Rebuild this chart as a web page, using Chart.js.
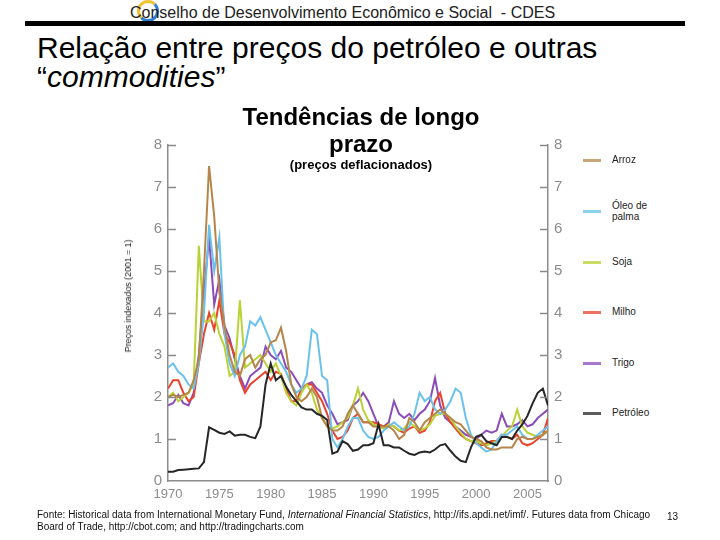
<!DOCTYPE html>
<html>
<head>
<meta charset="utf-8">
<script src="https://cdn.jsdelivr.net/npm/chart.js@4"></script>
<style>
  body { margin: 0; background: #fff; font-family: "Liberation Sans", Arial, sans-serif; }
  #page { position: relative; width: 720px; height: 540px; overflow: hidden; }
  .abs { position: absolute; white-space: nowrap; }
  #logo { left: 137px; top: 0px; width: 16px; height: 16px; border: 3px solid; border-radius: 50%;
          border-color: #f2c230 #2f7fd0 #2f7fd0 #f2c230; }
  #header { left: 130px; top: 4px; font-size: 16px; color: #222; line-height: 18px; }
  #rule { left: 25px; top: 21px; width: 660px; height: 5px; background: #000; }
  #title { left: 37px; top: 33px; font-size: 30px; line-height: 29px; color: #000; }
  #subtitle { left: 181px; top: 103px; width: 360px; text-align: center; font-size: 24px; font-weight: bold; line-height: 27px; }
  #note { left: 181px; top: 157px; width: 360px; text-align: center; font-size: 13px; font-weight: bold; }
  #ytitle { left: 128px; top: 296px; font-size: 9px; letter-spacing: -0.1px; color: #222; transform: translate(-50%, -50%) rotate(-90deg); }
  #chartBox { position: absolute; left: 120px; top: 130px; width: 460px; height: 385px; }
  .leg { position: absolute; left: 583px; width: 18px; height: 3px; }
  .legTxt { position: absolute; left: 612px; font-size: 10px; line-height: 11px; color: #222; }
  #source { left: 37px; top: 509px; font-size: 10px; line-height: 12px; color: #111; }
  #pnum { left: 667px; top: 511px; font-size: 10px; color: #111; }
</style>
</head>
<body>
<div id="page">
  <div id="logo" class="abs"></div>
  <div id="header" class="abs">Conselho de Desenvolvimento Econômico e Social &nbsp;- CDES</div>
  <div id="rule" class="abs"></div>
  <div id="title" class="abs">Relação entre preços do petróleo e outras<br>“<i>commodities</i>”</div>
  <div id="chartBox"><canvas id="oilChart"></canvas></div>
  <div id="subtitle" class="abs">Tendências de longo<br>prazo</div>
  <div id="note" class="abs">(preços deflacionados)</div>
  <div id="ytitle" class="abs">Preços indexados (2001 = 1)</div>
  <div id="legend"></div>
  <div id="source" class="abs">Fonte: Historical data from International Monetary Fund, <i>International Financial Statistics</i>, http://ifs.apdi.net/imf/. Futures data from Chicago<br>Board of Trade, http://cbot.com; and http://tradingcharts.com</div>
  <div id="pnum" class="abs">13</div>
</div>
<script>
// half-year steps, 1970 -> 2007
const years = [
  1970, 1970.5, 1971, 1971.5, 1972, 1972.5, 1973, 1973.5, 1974, 1974.5,
  1975, 1975.5, 1976, 1976.5, 1977, 1977.5, 1978, 1978.5, 1979, 1979.5,
  1980, 1980.5, 1981, 1981.5, 1982, 1982.5, 1983, 1983.5, 1984, 1984.5,
  1985, 1985.5, 1986, 1986.5, 1987, 1987.5, 1988, 1988.5, 1989, 1989.5,
  1990, 1990.5, 1991, 1991.5, 1992, 1992.5, 1993, 1993.5, 1994, 1994.5,
  1995, 1995.5, 1996, 1996.5, 1997, 1997.5, 1998, 1998.5, 1999, 1999.5,
  2000, 2000.5, 2001, 2001.5, 2002, 2002.5, 2003, 2003.5, 2004, 2004.5,
  2005, 2005.5, 2006, 2006.5, 2007
]

const arroz = [
  2.0, 2.05, 2.0, 2.05, 2.1, 2.4, 2.9, 5.0, 7.5, 6.3,
  4.5, 3.7, 3.0, 2.6, 2.5, 2.9, 3.0, 2.7, 2.9, 3.0,
  3.3, 3.35, 3.65, 3.1, 2.3, 2.0, 1.9, 2.0, 2.2, 2.0,
  1.5, 1.3, 1.2, 1.2, 1.3, 1.6, 1.8, 1.6, 1.4, 1.4,
  1.3, 1.3, 1.3, 1.3, 1.2, 1.0, 1.1, 1.5, 1.4, 1.2,
  1.4, 1.5, 1.6, 1.7, 1.6, 1.5, 1.4, 1.35, 1.2, 1.05,
  1.0, 0.95, 0.8, 0.75, 0.75, 0.8, 0.8, 0.8, 1.0, 1.05,
  1.0, 1.0, 1.05, 1.1, 1.2
]
const oleoPalma = [
  2.7, 2.8, 2.6, 2.5, 2.3, 2.2, 2.8, 4.0, 6.1, 5.0,
  5.8, 3.5, 2.8, 2.5, 3.0, 3.2, 3.8, 3.7, 3.9, 3.6,
  3.3, 3.0, 2.8, 2.6, 2.3, 2.1, 2.2, 2.5, 3.6, 3.5,
  2.5, 2.4, 1.0, 0.8, 1.0, 1.3, 1.5, 1.5, 1.2, 1.05,
  1.0, 1.05, 1.2, 1.3, 1.4, 1.3, 1.2, 1.3, 1.6, 2.1,
  1.9, 2.0, 1.7, 1.6, 1.7, 1.9, 2.2, 2.1, 1.5, 1.1,
  0.9, 0.8, 0.7, 0.75, 0.95, 1.1, 1.1, 1.2, 1.3, 1.1,
  1.0, 1.0, 1.1, 1.2, 1.3
]
const soja = [
  2.0, 2.1, 1.9, 2.0, 2.1, 2.3, 5.6, 3.8, 3.8, 4.0,
  3.5, 3.2, 2.5, 2.6, 4.3, 2.7, 2.8, 2.9, 3.0, 2.8,
  2.6, 2.8, 2.5, 2.1, 1.9, 1.8, 2.1, 2.3, 2.1, 1.7,
  1.5, 1.3, 1.25, 1.3, 1.4, 1.5, 1.8, 2.2, 1.7, 1.45,
  1.35, 1.3, 1.25, 1.35, 1.3, 1.2, 1.25, 1.4, 1.3, 1.2,
  1.25, 1.35, 1.55, 1.6, 1.6, 1.5, 1.3, 1.15, 1.0, 0.95,
  0.95, 0.9, 0.85, 0.9, 0.95, 1.05, 1.2, 1.3, 1.7, 1.3,
  1.15, 1.1, 1.05, 1.1, 1.2
]
const milho = [
  2.2, 2.4, 2.4, 2.1, 1.9, 2.0, 2.8, 3.5, 4.0, 3.6,
  4.3, 3.5, 3.3, 3.0, 2.4, 2.1, 2.3, 2.4, 2.5, 2.6,
  2.4, 2.6, 2.55, 2.2, 1.9, 1.9, 2.2, 2.3, 2.3, 2.1,
  1.9, 1.6, 1.2, 1.0, 1.05, 1.2, 1.5, 1.6, 1.4, 1.4,
  1.4, 1.35, 1.3, 1.35, 1.3, 1.2, 1.15, 1.25, 1.3, 1.15,
  1.2, 1.4, 1.9, 2.1, 1.6, 1.4, 1.25, 1.1, 1.0, 0.95,
  0.9, 0.85, 0.9, 0.95, 0.95, 1.1, 1.05, 1.0, 1.1, 0.9,
  0.85, 0.9, 1.0, 1.1, 1.5
]
const trigo = [
  1.8, 1.85, 2.05, 1.85, 1.8, 2.1, 3.0, 4.5, 5.8, 4.2,
  4.8, 3.7, 3.4, 2.9, 2.5, 2.2, 2.5, 2.6, 2.7, 3.2,
  3.0, 2.9, 3.1, 2.7, 2.6, 2.4, 2.2, 2.3, 2.35, 2.2,
  2.1, 1.8, 1.6, 1.35, 1.4, 1.45, 1.8, 1.9, 2.1, 1.9,
  1.6, 1.3, 1.3, 1.4, 1.9, 1.6, 1.5, 1.6, 1.45, 1.6,
  1.7, 1.9, 2.45, 1.8, 1.5, 1.4, 1.3, 1.2, 1.1, 1.05,
  1.0, 1.1, 1.2, 1.15, 1.2, 1.6, 1.3, 1.3, 1.35, 1.45,
  1.3, 1.35, 1.5, 1.6, 1.7
]
const petroleo = [
  0.22, 0.22, 0.26, 0.27, 0.28, 0.29, 0.3, 0.45, 1.28, 1.22,
  1.15, 1.12, 1.18, 1.08, 1.1, 1.1, 1.05, 1.02, 1.3, 2.3,
  2.8, 2.4, 2.5, 2.25, 2.05, 1.9, 1.75, 1.7, 1.7, 1.6,
  1.55, 1.45, 0.65, 0.7, 0.95, 0.88, 0.72, 0.75, 0.85, 0.85,
  0.9, 1.35, 0.85, 0.85, 0.8, 0.8, 0.72, 0.65, 0.62, 0.68,
  0.7, 0.68, 0.75, 0.85, 0.88, 0.72, 0.58, 0.48, 0.45, 0.8,
  1.05, 1.1, 0.95, 0.9, 0.85, 1.05, 1.05, 1.0, 1.2, 1.35,
  1.55, 1.85, 2.1, 2.2, 1.8
]

const seriesNames = ["Arroz", "Óleo de palma", "Soja", "Milho", "Trigo", "Petróleo"]
const seriesData = [arroz, oleoPalma, soja, milho, trigo, petroleo]
const seriesColors = ["#b5854a", "#6ac2ec", "#b9d336", "#e8432c", "#8b4cb8", "#262626"]
const legendY = [160, 211, 262, 312, 363, 413]

const xTicks = [1970, 1975, 1980, 1985, 1990, 1995, 2000, 2005]
const yTicks = [0, 1, 2, 3, 4, 5, 6, 7, 8]

// legend on the right
const legend = document.getElementById("legend")
seriesNames.forEach((name, i) => {
    const sw = document.createElement("div")
    sw.className = "leg"
    sw.style.top = (legendY[i] - 1) + "px"
    sw.style.background = seriesColors[i]
    sw.style.opacity = 0.75
    legend.appendChild(sw)
    const txt = document.createElement("div")
    txt.className = "legTxt"
    const lines = name === "Óleo de palma" ? "Óleo de<br>palma" : name
    txt.innerHTML = lines
    txt.style.top = (legendY[i] - (name === "Óleo de palma" ? 11 : 6)) + "px"
    legend.appendChild(txt)
})

// tick marks drawn inward on both vertical axes
const innerTicks = {
    id: "innerTicks",
    afterDraw(chart) {
        const { ctx, chartArea, scales } = chart
        ctx.save()
        ctx.strokeStyle = "#8a8a8a"
        ctx.lineWidth = 1.5
        yTicks.forEach((v) => {
            if (v === 0) return
            const y = Math.round(scales.y.getPixelForValue(v)) + 0.5
            ctx.beginPath()
            ctx.moveTo(chartArea.left, y)
            ctx.lineTo(chartArea.left + 8, y)
            ctx.moveTo(chartArea.right - 8, y)
            ctx.lineTo(chartArea.right, y)
            ctx.stroke()
        })
        ctx.restore()
    },
}

const axisGray = "#8c8c8c"
const ctx = document.getElementById("oilChart").getContext("2d")
const oilChart = new Chart(ctx, {
    type: "line",
    data: {
        datasets: seriesNames.map((name, i) => ({
            label: name,
            data: years.map((yr, j) => ({ x: yr, y: seriesData[i][j] })),
            borderColor: seriesColors[i],
            borderWidth: 2,
            pointRadius: 0,
            tension: 0,
            fill: false,
            order: name === "Petróleo" ? 0 : i + 1,
        })),
    },
    options: {
        responsive: true,
        maintainAspectRatio: false,
        animation: false,
        layout: {
            padding: { top: 15, left: 0, right: 0, bottom: 0 },
        },
        plugins: {
            legend: { display: false },
            tooltip: { enabled: false },
        },
        scales: {
            x: {
                type: "linear",
                min: 1970,
                max: 2007,
                afterBuildTicks: (scale) => {
                    scale.ticks = xTicks.map((v) => ({ value: v }))
                },
                afterFit: (scale) => {
                    scale.height = 34
                },
                ticks: {
                    color: axisGray,
                    font: { family: "Liberation Sans", size: 13 },
                    padding: 6,
                    maxRotation: 0,
                    callback: (value) => String(value),
                },
                grid: { drawOnChartArea: false, drawTicks: false },
                border: { color: axisGray, width: 1.5 },
            },
            y: {
                min: 0,
                max: 8,
                afterBuildTicks: (scale) => {
                    scale.ticks = yTicks.map((v) => ({ value: v }))
                },
                afterFit: (scale) => {
                    scale.width = 48
                },
                ticks: {
                    color: axisGray,
                    font: { family: "Liberation Sans", size: 15 },
                    padding: 6,
                },
                grid: { drawOnChartArea: false, drawTicks: false },
                border: { color: axisGray, width: 1.5 },
            },
            y2: {
                position: "right",
                min: 0,
                max: 8,
                afterBuildTicks: (scale) => {
                    scale.ticks = yTicks.map((v) => ({ value: v }))
                },
                afterFit: (scale) => {
                    scale.width = 32
                },
                ticks: {
                    color: axisGray,
                    font: { family: "Liberation Sans", size: 15 },
                    padding: 6,
                },
                grid: { drawOnChartArea: false, drawTicks: false },
                border: { color: axisGray, width: 1.5 },
            },
        },
    },
    plugins: [innerTicks],
})
</script>
</body>
</html>
